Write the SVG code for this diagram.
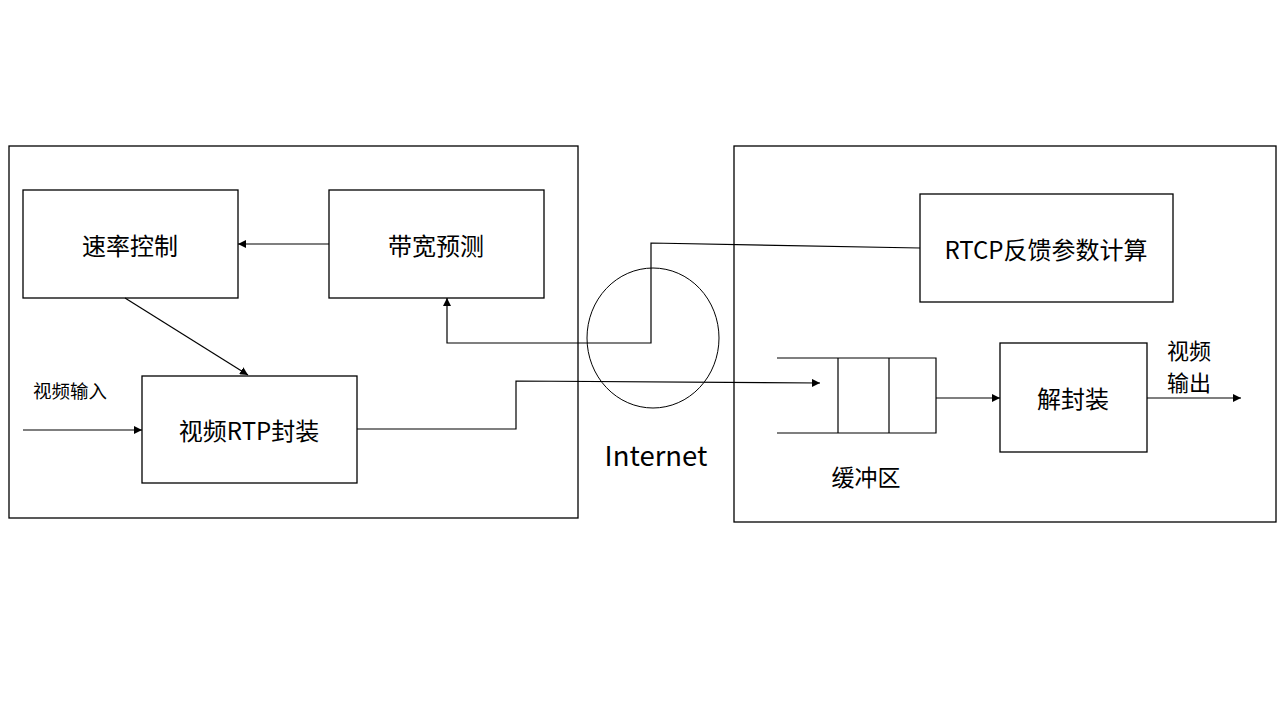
<svg xmlns="http://www.w3.org/2000/svg" width="1280" height="720" viewBox="0 0 1280 720">
<defs>
<marker id="arr" viewBox="0 0 10 10" refX="10" refY="5" markerWidth="8" markerHeight="8" markerUnits="userSpaceOnUse" orient="auto"><path d="M0,0 L10,5 L0,10 z" fill="#000"/></marker>
<style>
.box{fill:#fff;stroke:#000;stroke-width:1.3}
.frame{fill:none;stroke:#000;stroke-width:1.3}
.ln{fill:none;stroke:#000;stroke-width:1.2}
.t{font-family:"Noto Sans CJK SC","Noto Sans",sans-serif;fill:#000;text-anchor:middle;dominant-baseline:central}
.l{font-size:24px}
.s{font-size:18.5px}
</style>
</defs>
<rect width="1280" height="720" fill="#fff"/>
<g id="sender"><rect class="frame" x="9" y="146" width="569" height="372"/></g>
<g id="receiver"><rect class="frame" x="734" y="146" width="542" height="376"/></g>
<g id="internet">
<ellipse cx="653" cy="338" rx="66" ry="70" fill="none" stroke="#000" stroke-width="1"/>
<text class="t" x="656" y="454" style="font-size:27.5px">Internet</text>
</g>
<g id="rate"><rect class="box" x="23" y="190" width="215" height="108"/><text class="t l" x="130" y="244">速率控制</text></g>
<g id="bw"><rect class="box" x="329" y="190" width="215" height="108"/><text class="t l" x="436" y="244">带宽预测</text></g>
<g id="rtp"><rect class="box" x="142" y="376" width="215" height="107"/><text class="t l" x="249" y="429">视频RTP封装</text></g>
<g id="rtcp"><rect class="box" x="920" y="194" width="253" height="108"/><text class="t l" x="1046" y="248">RTCP反馈参数计算</text></g>
<g id="depack"><rect class="box" x="1000" y="343" width="147" height="109"/><text class="t l" x="1073" y="397">解封装</text></g>
<g id="buffer">
<path class="ln" d="M777,358 H936 V433 H777 M838,358 V433 M889,358 V433"/>
<text class="t" x="866" y="476" style="font-size:23px">缓冲区</text>
</g>
<g id="labels">
<text class="t s" x="70" y="390">视频输入</text>
<text class="t" x="1189" y="349" style="font-size:22px">视频</text>
<text class="t" x="1189" y="381" style="font-size:22px">输出</text>
</g>
<g id="connectors">
<path class="ln" d="M329,244 H238" marker-end="url(#arr)"/>
<path class="ln" d="M125,298 L248,375" marker-end="url(#arr)"/>
<path class="ln" d="M23,430 H142" marker-end="url(#arr)"/>
<path class="ln" d="M357,429 H516 V381 L820,383" marker-end="url(#arr)"/>
<path class="ln" d="M920,248 L651,243 V343 H447 V298" marker-end="url(#arr)"/>
<path class="ln" d="M936,398 H1000" marker-end="url(#arr)"/>
<path class="ln" d="M1147,398 H1241" marker-end="url(#arr)"/>
</g>
</svg>
